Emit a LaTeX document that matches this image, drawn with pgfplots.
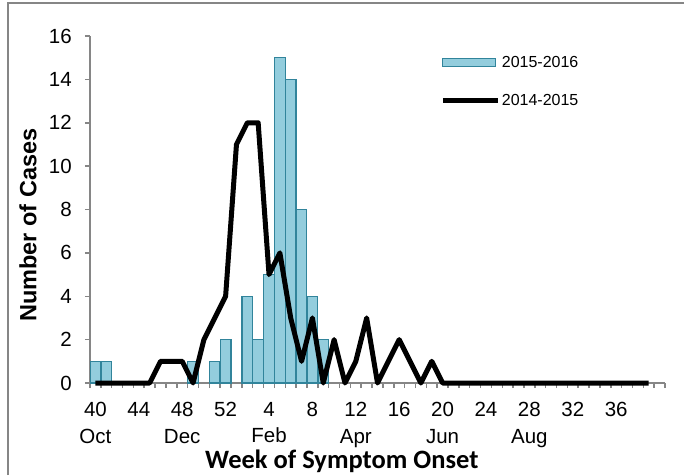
\documentclass[border=0pt]{standalone}
\usepackage{pgfplots}
\pgfplotsset{compat=1.18}
\usepackage{pgfplotstable}
\usepackage{fontspec}
\setmainfont{Liberation Sans}
\newfontfamily\calibri{Carlito}
\definecolor{barfill}{HTML}{93CDDD}
\definecolor{baredge}{HTML}{31849B}
\definecolor{axgray}{HTML}{868686}

\pgfplotstableread{
idx week s1516 s1415
0 40 1 0
1 41 1 0
2 42 0 0
3 43 0 0
4 44 0 0
5 45 0 0
6 46 0 1
7 47 0 1
8 48 0 1
9 49 1 0
10 50 0 2
11 51 1 3
12 52 2 4
13 1 0 11
14 2 4 12
15 3 2 12
16 4 5 5
17 5 15 6
18 6 14 3
19 7 8 1
20 8 4 3
21 9 2 0
22 10 0 2
23 11 0 0
24 12 0 1
25 13 0 3
26 14 0 0
27 15 0 1
28 16 0 2
29 17 0 1
30 18 0 0
31 19 0 1
32 20 0 0
33 21 0 0
34 22 0 0
35 23 0 0
36 24 0 0
37 25 0 0
38 26 0 0
39 27 0 0
40 28 0 0
41 29 0 0
42 30 0 0
43 31 0 0
44 32 0 0
45 33 0 0
46 34 0 0
47 35 0 0
48 36 0 0
49 37 0 0
50 38 0 0
51 39 0 0
}\data

\begin{document}
\begin{tikzpicture}[x=1pt,y=1pt]
\useasboundingbox (0,0) rectangle (684,475);
\fill[white] (0,0) rectangle (684,475);
\draw[axgray, line width=1.5pt] (8,0) -- (8,472) -- (684,472);
\begin{axis}[
  at={(90pt,92pt)}, anchor=south west,
  scale only axis, width=575pt, height=347pt,
  xmin=-0.5, xmax=52.5, ymin=0, ymax=16,
  clip=false,
  axis lines*=left,
  axis line style={axgray, line width=1.5pt, -},
  tick align=outside,
  major tick length=5pt,
  every tick/.style={axgray, line width=1.5pt},
  xtick={-0.5,0.5,...,52.5},
  xticklabels={},
  extra x ticks={0,4,...,48},
  extra x tick labels={{40\\Oct},44,{48\\Dec},52,{4\\Feb},8,{12\\Apr},16,{20\\Jun},24,{28\\Aug},32,36},
  extra x tick style={major tick length=0pt},
  xticklabel style={font=\fontsize{20.5}{26.5}\selectfont, align=center, anchor=north, inner sep=0pt, yshift=-19pt},
  ytick={0,2,...,16},
  yticklabel style={font=\fontsize{20.5}{24}\selectfont, anchor=east, inner sep=0pt, xshift=-13pt},
  /pgf/number format/assume math mode=true,
  ylabel={Number of Cases},
  every axis y label/.style={at={(axis description cs:-0.1078,0.455)}, rotate=90, anchor=center,
    font=\bfseries\fontsize{23.5}{28}\selectfont},
  xlabel={Week of Symptom Onset},
  every axis x label/.style={at={(axis description cs:0.438,-0.2248)}, anchor=center,
    font=\calibri\bfseries\fontsize{26.5}{30}\selectfont},
  legend style={draw=none, fill=none, at={(axis description cs:0.609,0.942)}, anchor=north west,
    font=\fontsize{16}{19}\selectfont, row sep=25.5pt, inner sep=0pt, nodes={inner xsep=1.5pt, inner ysep=0pt}},
  legend cell align=left,
]
\addplot[ybar, bar width=0.98, fill=barfill, draw=baredge, line width=1.2pt,
  y filter/.expression={y==0 ? nan : y}, unbounded coords=discard,
  legend image code/.code={\draw[fill=barfill, draw=baredge, line width=1.2pt] (0pt,-4pt) rectangle (53pt,4pt);}]
  table[x=idx, y=s1516] {\data};
\addlegendentry{2015-2016}
\addplot[black, line width=5pt, line join=round, mark=none,
  legend image code/.code={\draw[black, line width=5pt] (0pt,0pt) -- (55pt,0pt);}]
  table[x=idx, y=s1415] {\data};
\addlegendentry{2014-2015}
\end{axis}
\end{tikzpicture}
\end{document}
